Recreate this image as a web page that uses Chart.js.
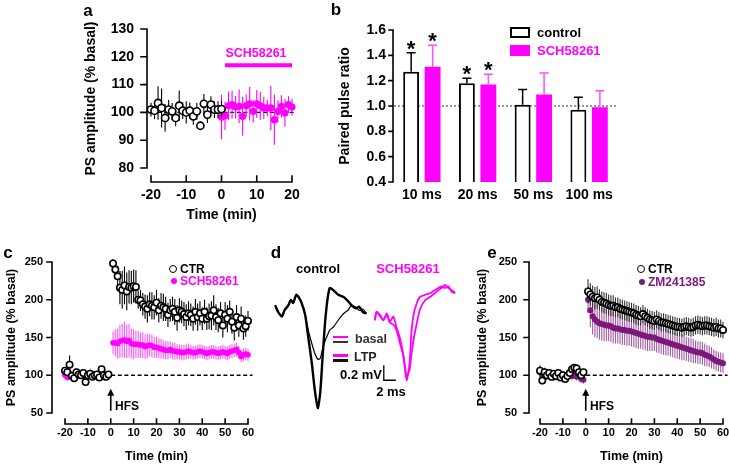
<!DOCTYPE html>
<html>
<head>
<meta charset="utf-8">
<script src="https://cdn.jsdelivr.net/npm/chart.js@4.4.1/dist/chart.umd.min.js"></script>
<style>
  html, body { margin: 0; padding: 0; background: #fff; }
  body { width: 729px; height: 467px; position: relative; overflow: hidden;
         font-family: "Liberation Sans", Arial, sans-serif; font-weight: bold; color: #000; }
  canvas { position: absolute; }
  .t { position: absolute; white-space: nowrap; line-height: 1; transform: translate(-50%, -50%); }
  .l { transform: translate(0, -50%); }
  .r { transform: translate(-100%, -50%); }
  .panel { font-size: 17px; }
  .mag { color: #ff00ff; }
  .pur { color: #7b1a7b; }
  .box { position: absolute; box-sizing: border-box; }
  .dot { position: absolute; box-sizing: border-box; border-radius: 50%; transform: translate(-50%, -50%); }
</style>
</head>
<body>
<canvas id="chartA" width="330" height="225" style="left:0;top:0"></canvas>
<canvas id="chartB" width="399" height="225" style="left:330px;top:0"></canvas>
<canvas id="chartC" width="265" height="242" style="left:0;top:225px"></canvas>
<canvas id="chartD" width="215" height="200" style="left:265px;top:225px"></canvas>
<canvas id="chartE" width="259" height="242" style="left:470px;top:225px"></canvas>

<!-- panel a -->
<div class="t panel" style="left:88px;top:10px">a</div>
<div class="t mag" style="left:256px;top:53px;font-size:12.5px">SCH58261</div>

<!-- panel b -->
<div class="t panel" style="left:336px;top:9px">b</div>
<div class="box" style="left:510px;top:27px;width:20px;height:11px;border:2px solid #000"></div>
<div class="t l" style="left:537px;top:32px;font-size:13px">control</div>
<div class="box" style="left:510px;top:45px;width:20px;height:11px;background:#ff00ff"></div>
<div class="t l mag" style="left:537px;top:50px;font-size:13px">SCH58261</div>

<!-- panel c -->
<div class="t panel" style="left:8px;top:252px">c</div>
<div class="dot" style="left:173px;top:269px;width:8px;height:8px;border:1.6px solid #000"></div>
<div class="t l" style="left:180px;top:269px;font-size:12px">CTR</div>
<div class="dot" style="left:174px;top:281px;width:6px;height:6px;background:#ff00ff"></div>
<div class="t l mag" style="left:180px;top:281px;font-size:12px">SCH58261</div>
<div class="t l" style="left:115px;top:406px;font-size:12px">HFS</div>

<!-- panel d -->
<div class="t panel" style="left:276px;top:252px">d</div>
<div class="t" style="left:318px;top:268px;font-size:13px">control</div>
<div class="t mag" style="left:408px;top:268px;font-size:13px">SCH58261</div>
<div class="box" style="left:333px;top:336px;width:15px;height:2px;background:#ff00ff"></div>
<div class="box" style="left:333px;top:341px;width:15px;height:2px;background:#333"></div>
<div class="t l" style="left:355px;top:339px;font-size:12.5px;color:#333">basal</div>
<div class="box" style="left:333px;top:354px;width:15px;height:3px;background:#ff00ff"></div>
<div class="box" style="left:333px;top:359px;width:15px;height:3px;background:#111"></div>
<div class="t l" style="left:354px;top:357px;font-size:12.5px;color:#222">LTP</div>
<div class="t r" style="left:382px;top:374px;font-size:13px">0.2 mV</div>
<div class="t" style="left:391px;top:391px;font-size:13px">2 ms</div>

<!-- panel e -->
<div class="t panel" style="left:492px;top:252px">e</div>
<div class="dot" style="left:641px;top:269px;width:8px;height:8px;border:1.6px solid #000"></div>
<div class="t l" style="left:648px;top:269px;font-size:12px">CTR</div>
<div class="dot" style="left:642px;top:282px;width:6px;height:6px;background:#7b1a7b"></div>
<div class="t l pur" style="left:648px;top:282px;font-size:12px">ZM241385</div>
<div class="t l" style="left:590px;top:406px;font-size:12px">HFS</div>

<script>
// ---------- data ----------

// a: PS amplitude (% basal) before / during SCH58261
const aCtrlMin = [-20, -19, -18, -17, -16, -15, -14, -13, -12, -11, -10, -9, -8, -7, -6, -5, -4, -3, -2, -1, 0];
const aCtrlAmp = [101, 100.6, 103.4, 101.6, 98, 101, 100.4, 98, 102.4, 100.6, 100, 100.6, 98.6, 100.4, 95.2, 103.1, 99.2, 102.8, 101, 101, 101.2];
const aCtrlSem = [2.5, 3, 6, 7, 5, 3.5, 3, 3, 5.5, 3, 4, 3, 3, 3, 1.5, 3.5, 3, 3, 3, 3, 3];
const aSchMin = [0, 1, 2, 3, 4, 5, 6, 7, 8, 9, 10, 11, 12, 13, 14, 15, 16, 17, 18, 19, 20];
const aSchAmp = [98.3, 98.8, 102.4, 102.8, 101.9, 102.2, 98.6, 102.4, 103.1, 100.4, 103.1, 102.4, 101.6, 101.6, 101.6, 97.4, 100.4, 102.2, 99.8, 102.8, 101.9];
const aSchSem = [8, 5, 5, 5, 4, 6, 7, 4, 6, 4, 5, 5, 4, 3, 8, 9, 4, 4, 5, 3, 3];
const aDrugMin = [1, 20];        // SCH58261 application bar
const aDrugLevel = 117;

// b: paired pulse ratio
const bIntervals = ['10 ms', '20 ms', '50 ms', '100 ms'];
const bCtrlPpr = [1.27, 1.18, 1.01, 0.97];
const bCtrlSem = [0.15, 0.04, 0.12, 0.10];
const bSchPpr = [1.31, 1.17, 1.09, 0.99];
const bSchSem = [0.17, 0.08, 0.17, 0.13];
const bCtrlSig = [true, true, false, false];
const bSchSig = [true, true, false, false];

// c / e: LTP time course
const baseMin = [-20, -19, -18, -17, -16, -15, -14, -13, -12, -11, -10, -9, -8, -7, -6, -5, -4, -3, -2, -1];
const postMin = [1, 2, 3, 4, 5, 6, 7, 8, 9, 10, 11, 12, 13, 14, 15, 16, 17, 18, 19, 20,
  21, 22, 23, 24, 25, 26, 27, 28, 29, 30, 31, 32, 33, 34, 35, 36, 37, 38, 39, 40,
  41, 42, 43, 44, 45, 46, 47, 48, 49, 50, 51, 52, 53, 54, 55, 56, 57, 58, 59, 60];

const cCtrlBase = [106, 104, 114, 99, 96, 104, 101, 100, 103, 91, 100, 102, 98, 100, 101, 97, 108, 100, 98, 101];
const cCtrlBaseSem = [4, 5, 12, 5, 4, 5, 4, 4, 5, 4, 4, 5, 4, 4, 4, 4, 5, 4, 4, 4];
const cSchBase = [100, 97, 103, 99, 101, 98, 100, 102, 99, 101, 100, 103, 98, 100, 102, 99, 101, 97, 100, 99];
const cSchBaseSem = [4, 4, 5, 4, 4, 4, 5, 4, 4, 4, 5, 6, 4, 4, 4, 4, 4, 4, 4, 4];
const cCtrlPost = [248, 240, 231, 216, 213, 219, 211, 217, 216, 218, 217, 200, 199, 194, 191, 188, 194, 192, 190, 196,
  186, 192, 190, 188, 180, 186, 188, 184, 176, 186, 184, 181, 177, 182, 180, 175, 184, 177, 182, 175,
  184, 175, 178, 179, 186, 177, 173, 182, 166, 180, 175, 184, 171, 163, 177, 166, 175, 162, 165, 172];
const cCtrlPostSem = [6, 10, 14, 22, 25, 25, 25, 22, 22, 22, 22, 12, 14, 15, 16, 18, 16, 18, 16, 17,
  16, 17, 18, 16, 16, 15, 16, 17, 17, 16, 15, 16, 17, 16, 15, 16, 17, 18, 16, 15,
  16, 15, 17, 19, 20, 17, 16, 15, 16, 17, 18, 15, 16, 17, 16, 15, 16, 15, 14, 13];
const cSchPost = [143, 143, 142, 145, 146, 147, 145, 146, 142, 141, 141, 141, 140, 140, 138, 139, 140, 139, 137, 137,
  136, 135, 134, 133, 133, 134, 132, 132, 131, 131, 130, 130, 131, 132, 131, 130, 130, 131, 132, 131,
  130, 129, 130, 131, 131, 130, 129, 130, 131, 130, 129, 131, 132, 133, 134, 130, 125, 127, 128, 127];
const cSchPostSem = [15, 18, 20, 22, 22, 24, 22, 22, 20, 20, 18, 18, 17, 17, 16, 16, 15, 15, 14, 14,
  13, 13, 12, 12, 12, 11, 11, 11, 10, 10, 10, 10, 10, 10, 9, 9, 9, 9, 9, 9,
  9, 9, 9, 9, 9, 9, 9, 9, 9, 9, 9, 9, 9, 9, 9, 9, 8, 8, 8, 8];

const eCtrlBase = [106, 93, 104, 100, 103, 98, 102, 99, 103, 97, 100, 95, 99, 103, 108, 110, 109, 104, 100, 104];
const eCtrlBaseSem = [6, 5, 6, 4, 5, 4, 5, 4, 5, 4, 5, 4, 4, 5, 4, 4, 4, 4, 4, 4];
const eZmBase = [104, 100, 97, 102, 99, 101, 97, 100, 102, 98, 101, 97, 99, 102, 99, 100, 98, 101, 95, 94];
const eZmBaseSem = [10, 5, 5, 5, 5, 5, 5, 5, 5, 5, 5, 5, 5, 5, 5, 5, 5, 5, 5, 5];
const eCtrlPost = [211, 207, 204, 202, 203, 200, 197, 196, 195, 193, 192, 192, 190, 190, 188, 187, 186, 185, 184, 183,
  182, 180, 179, 178, 181, 178, 176, 174, 173, 172, 174, 172, 170, 170, 169, 168, 167, 166, 165, 164,
  164, 163, 164, 165, 164, 163, 164, 166, 167, 166, 165, 166, 166, 165, 164, 163, 164, 162, 162, 160];
const eCtrlPostSem = [16, 15, 15, 15, 15, 14, 14, 14, 14, 14, 14, 14, 13, 13, 13, 13, 13, 13, 13, 13,
  13, 13, 13, 12, 12, 12, 12, 12, 12, 12, 12, 12, 12, 12, 12, 12, 12, 12, 12, 12,
  12, 12, 12, 12, 12, 12, 12, 12, 12, 12, 12, 12, 12, 12, 12, 12, 12, 12, 12, 11];
const eZmPost = [200, 186, 178, 174, 171, 169, 168, 167, 166, 166, 165, 163, 162, 162, 161, 160, 160, 159, 159, 158,
  157, 156, 155, 154, 153, 152, 151, 151, 150, 150, 148, 147, 146, 145, 144, 143, 142, 141, 140, 139,
  138, 137, 136, 135, 134, 133, 132, 131, 130, 130, 129, 127, 126, 125, 123, 121, 119, 118, 117, 116];
const eZmPostSem = [18, 22, 24, 24, 22, 22, 22, 22, 21, 21, 21, 21, 20, 20, 20, 20, 20, 20, 20, 20,
  20, 20, 20, 19, 19, 19, 19, 19, 18, 18, 18, 18, 18, 18, 18, 17, 17, 17, 17, 17,
  17, 17, 16, 16, 16, 16, 16, 15, 15, 15, 15, 15, 14, 14, 14, 13, 13, 13, 13, 13];

const hfsArrow = [0, 53, 82];   // time, arrow foot, arrow tip (% basal)

// d: representative field potentials (ms, mV)
const dCtrlMs = [1.7, 2.2, 2.8, 3.3, 3.9, 4.3, 4.7, 5.2, 5.6, 6.1, 6.7, 7.2, 7.8, 8.3, 8.8, 9.2, 9.6, 10.0, 10.4, 10.8,
  11.4, 12.2, 13.1, 13.9, 14.4, 15.2, 15.7, 16.3, 16.9];
const dCtrlLtp = [-0.07, -0.16, -0.22, -0.13, -0.07, 0, -0.04, 0.07, 0.04, -0.04, -0.2, -0.49, -0.84, -1.2, -1.44, -1.24, -0.76, -0.31, 0, 0.16,
  0.13, 0.07, 0.04, -0.02, -0.07, -0.11, -0.09, -0.16, -0.18];
const dCtrlBasal = [-0.07, -0.16, -0.22, -0.13, -0.07, 0, -0.04, 0.07, 0.04, -0.04, -0.2, -0.4, -0.58, -0.71, -0.79, -0.78, -0.65, -0.55, -0.47, -0.4,
  -0.36, -0.27, -0.18, -0.13, -0.07, -0.1, -0.14, -0.12, -0.18];
const dSchMs = [18.3, 18.6, 19.2, 19.7, 20.3, 20.8, 21.4, 21.9, 22.5, 23.1, 23.6, 24.1, 24.4, 24.8, 25.3, 25.8, 26.7, 27.5, 28.3, 28.9,
  29.4, 30.0, 30.6, 31.1, 31.7];
const dSchLtp = [-0.27, -0.16, -0.2, -0.27, -0.18, -0.29, -0.22, -0.36, -0.51, -0.76, -1.07, -0.84, -0.44, -0.18, -0.04, 0.04, 0.07, 0.09, 0.13, 0.16,
  0.18, 0.16, 0.18, 0.11, 0.09];
const dSchBasal = [-0.27, -0.16, -0.22, -0.27, -0.2, -0.3, -0.33, -0.4, -0.58, -0.76, -1.02, -0.93, -0.73, -0.51, -0.31, -0.13, 0, 0.04, 0.09, 0.13,
  0.16, 0.2, 0.16, 0.13, 0.1];
const dBarMs = [19.8, 19.8, 21.8];   // scale bar: 0.2 mV, 2 ms
const dBarMv = [-0.87, -1.07, -1.07];

// ---------- chart defaults ----------
Chart.defaults.font.family = '"Liberation Sans", Arial, Helvetica, sans-serif';
Chart.defaults.font.weight = 'bold';
Chart.defaults.color = '#000';
Chart.defaults.animation = false;
Chart.defaults.plugins.legend.display = false;
Chart.defaults.plugins.tooltip.enabled = false;

const MAGENTA = '#ff00ff';
const PURPLE = '#7b1a7b';

const pts = (xs, ys) => xs.map((x, i) => ({ x, y: ys[i] }));

// ---------- plugins ----------

// vertical SEM bars, drawn behind the markers (or above bars for mode 'up')
function drawErrors(chart, meta, ds) {
  const ctx = chart.ctx;
  const yScale = chart.scales[meta.yAxisID];
  ctx.save();
  ctx.strokeStyle = ds.errorColor;
  ctx.lineWidth = ds.errorWidth || 1;
  meta.data.forEach((el, i) => {
    const raw = ds.data[i];
    const v = typeof raw === 'object' ? raw.y : raw;
    const e = ds.errors[i];
    const top = yScale.getPixelForValue(v + e);
    const bot = yScale.getPixelForValue(ds.errorMode === 'up' ? v : v - e);
    ctx.beginPath();
    ctx.moveTo(el.x, top);
    ctx.lineTo(el.x, bot);
    if (ds.capWidth) {
      ctx.moveTo(el.x - ds.capWidth / 2, top);
      ctx.lineTo(el.x + ds.capWidth / 2, top);
    }
    ctx.stroke();
  });
  ctx.restore();
}

const errorBars = {
  id: 'errorBars',
  beforeDatasetDraw(chart, args) {
    const ds = chart.data.datasets[args.index];
    if (ds.errors && ds.errorMode !== 'up') drawErrors(chart, args.meta, ds);
  },
  afterDatasetDraw(chart, args) {
    const ds = chart.data.datasets[args.index];
    if (ds.errors && ds.errorMode === 'up') drawErrors(chart, args.meta, ds);
  },
};

// offset axis lines: y axis left of the plot, x axis below it with ticks pointing up
const axisFrame = {
  id: 'axisFrame',
  afterDraw(chart, args, opts) {
    const { ctx, chartArea, scales } = chart;
    const x = scales.x, y = scales.y;
    ctx.save();
    ctx.strokeStyle = '#000';
    ctx.lineWidth = opts.width || 1.6;
    ctx.lineCap = 'square';
    ctx.beginPath();
    if (opts.yGap !== undefined) {
      const ax = chartArea.left - opts.yGap;
      ctx.moveTo(ax, y.getPixelForValue(y.max));
      ctx.lineTo(ax, y.getPixelForValue(y.min));
      y.ticks.forEach((tk) => {
        const py = y.getPixelForValue(tk.value);
        ctx.moveTo(ax - opts.tick, py);
        ctx.lineTo(ax, py);
      });
    }
    if (opts.xGap !== undefined) {
      const ay = chartArea.bottom + opts.xGap;
      ctx.moveTo(x.getPixelForValue(x.min), ay);
      ctx.lineTo(x.getPixelForValue(x.max), ay);
      x.ticks.forEach((tk) => {
        const px = x.getPixelForValue(tk.value);
        ctx.moveTo(px, ay - opts.tick);
        ctx.lineTo(px, ay);
      });
    }
    ctx.stroke();
    ctx.restore();
  },
};

// HFS arrow
const arrowMark = {
  id: 'arrowMark',
  afterDatasetsDraw(chart, args, opts) {
    if (!opts.at) return;
    const { ctx, scales } = chart;
    const px = scales.x.getPixelForValue(opts.at[0]);
    const y0 = scales.y.getPixelForValue(opts.at[1]);
    const y1 = scales.y.getPixelForValue(opts.at[2]);
    ctx.save();
    ctx.strokeStyle = '#000';
    ctx.fillStyle = '#000';
    ctx.lineWidth = 1.6;
    ctx.beginPath();
    ctx.moveTo(px, y0);
    ctx.lineTo(px, y1 + 5);
    ctx.stroke();
    ctx.beginPath();
    ctx.moveTo(px, y1);
    ctx.lineTo(px - 3.5, y1 + 7);
    ctx.lineTo(px + 3.5, y1 + 7);
    ctx.closePath();
    ctx.fill();
    ctx.restore();
  },
};

// dotted reference line and significance stars for the bar chart
const barMarks = {
  id: 'barMarks',
  beforeDatasetsDraw(chart, args, opts) {
    if (opts.refLine === undefined) return;
    const { ctx, chartArea, scales } = chart;
    const py = scales.y.getPixelForValue(opts.refLine);
    ctx.save();
    ctx.strokeStyle = '#333';
    ctx.lineWidth = 1;
    ctx.setLineDash([2, 2]);
    ctx.beginPath();
    ctx.moveTo(chartArea.left, py);
    ctx.lineTo(chartArea.right, py);
    ctx.stroke();
    ctx.restore();
  },
  afterDatasetsDraw(chart) {
    const { ctx, scales } = chart;
    ctx.save();
    ctx.fillStyle = '#000';
    ctx.font = 'bold 22px "Liberation Sans", Arial, sans-serif';
    ctx.textAlign = 'center';
    ctx.textBaseline = 'alphabetic';
    chart.data.datasets.forEach((ds, di) => {
      if (!ds.stars) return;
      const meta = chart.getDatasetMeta(di);
      ds.stars.forEach((on, i) => {
        if (!on) return;
        const top = scales.y.getPixelForValue(ds.data[i] + ds.errors[i]);
        ctx.fillText('*', meta.data[i].x, top + 3);
      });
    });
    ctx.restore();
  },
};

// ---------- helpers ----------
function markers(xs, ys, errs, style) {
  return Object.assign({
    type: 'scatter',
    data: pts(xs, ys),
    errors: errs,
    showLine: false,
    clip: false,
  }, style);
}

const openCircle = (r) => ({
  pointRadius: r, pointBackgroundColor: '#fff', pointBorderColor: '#000', pointBorderWidth: 1.6,
  errorColor: '#000', errorWidth: 1.1,
});
const filledDot = (r, color, errColor) => ({
  pointRadius: r, pointBackgroundColor: color, pointBorderColor: color, pointBorderWidth: 0,
  errorColor: errColor, errorWidth: 1.1,
});

function dashedBaseline(xFrom, xTo) {
  return {
    type: 'line',
    data: pts([xFrom, xTo], [100, 100]),
    borderColor: '#000',
    borderWidth: 1.3,
    borderDash: [4, 2.6],
    pointRadius: 0,
    clip: false,
  };
}

function timeChart(id, datasets, g) {
  return new Chart(document.getElementById(id), {
    type: 'scatter',
    data: { datasets },
    options: {
      responsive: false,
      layout: { padding: g.pad },
      scales: {
        x: {
          type: 'linear', min: g.xMin, max: g.xMax,
          grid: { display: false, drawTicks: false },
          border: { display: false },
          ticks: { stepSize: 10, padding: g.xTickPad, font: { size: g.tickSize }, autoSkip: false, maxRotation: 0 },
          title: { display: true, text: 'Time (min)', font: { size: g.titleSize }, padding: { top: 0, bottom: g.xTitlePad } },
          afterFit: (s) => { s.height = g.xH; s.paddingLeft = 0; s.paddingRight = 0; },
        },
        y: {
          min: g.yMin, max: g.yMax,
          grid: { display: false, drawTicks: false },
          border: { display: false },
          ticks: { stepSize: g.yStep, padding: g.yTickPad, font: { size: g.tickSize } },
          title: { display: true, text: 'PS amplitude (% basal)', font: { size: g.titleSize }, padding: { top: g.yTitlePad, bottom: 0 } },
          afterFit: (s) => { s.width = g.yW; s.paddingTop = 0; s.paddingBottom = 0; },
        },
      },
      plugins: {
        axisFrame: { yGap: g.yGap, xGap: g.xGap, tick: g.tickLen },
        arrowMark: { at: g.arrow },
      },
    },
    plugins: [axisFrame, errorBars, arrowMark],
  });
}

// ---------- a ----------
timeChart('chartA', [
  markers(aCtrlMin, aCtrlAmp, aCtrlSem, openCircle(3.6)),
  markers(aSchMin, aSchAmp, aSchSem, filledDot(3.6, MAGENTA, MAGENTA)),
  {
    type: 'line', data: pts(aDrugMin, [aDrugLevel, aDrugLevel]),
    borderColor: MAGENTA, borderWidth: 4, pointRadius: 0, clip: false,
  },
  dashedBaseline(-20, 21),
], {
  pad: { left: 81, right: 38, top: 29, bottom: 1 },
  xMin: -20, xMax: 20, yMin: 80, yMax: 130, yStep: 10,
  tickSize: 14, titleSize: 14,
  xH: 56, xTickPad: 18.6, xTitlePad: 0,
  yW: 70, yTickPad: 17, yTitlePad: 2,
  yGap: 4, xGap: 14, tickLen: 6,
});

// ---------- b ----------
new Chart(document.getElementById('chartB'), {
  type: 'bar',
  data: {
    labels: bIntervals,
    datasets: [
      {
        label: 'control', data: bCtrlPpr,
        backgroundColor: '#fff', borderColor: '#000', borderWidth: 2, borderSkipped: false,
        errors: bCtrlSem, errorMode: 'up', errorColor: '#000', errorWidth: 1.5, capWidth: 9,
        stars: bCtrlSig,
      },
      {
        label: 'SCH58261', data: bSchPpr,
        backgroundColor: MAGENTA, borderWidth: 0,
        errors: bSchSem, errorMode: 'up', errorColor: '#ff4dff', errorWidth: 1.5, capWidth: 9,
        stars: bSchSig,
      },
    ],
  },
  options: {
    responsive: false,
    layout: { padding: { left: 6, right: 112, top: 30, bottom: 13 } },
    datasets: { bar: { categoryPercentage: 0.77, barPercentage: 0.74 } },
    scales: {
      x: {
        grid: { display: false, drawTicks: false },
        border: { display: false },
        ticks: { padding: 4.6, font: { size: 14 } },
        afterFit: (s) => { s.height = 30; s.paddingLeft = 0; s.paddingRight = 0; },
      },
      y: {
        min: 0.4, max: 1.6,
        grid: { display: false, drawTicks: false },
        border: { display: false },
        ticks: { stepSize: 0.2, padding: 8, font: { size: 14 }, callback: (v) => v.toFixed(1) },
        title: { display: true, text: 'Paired pulse ratio', font: { size: 14 }, padding: { top: 0.6, bottom: 0 } },
        afterFit: (s) => { s.width = 58; s.paddingTop = 0; s.paddingBottom = 0; },
      },
    },
    plugins: {
      axisFrame: { yGap: 1, tick: 4 },
      barMarks: { refLine: 1.0 },
    },
  },
  plugins: [axisFrame, errorBars, barMarks],
});

// ---------- c ----------
timeChart('chartC', [
  markers(baseMin, cCtrlBase, cCtrlBaseSem, openCircle(3.2)),
  markers(postMin, cCtrlPost, cCtrlPostSem, openCircle(3.2)),
  markers(baseMin, cSchBase, cSchBaseSem, filledDot(2.8, MAGENTA, '#ff55ff')),
  markers(postMin, cSchPost, cSchPostSem, filledDot(2.8, MAGENTA, '#ff55ff')),
  dashedBaseline(-20, 62),
], {
  pad: { left: 4, right: 17, top: 37, bottom: 2 },
  xMin: -20, xMax: 60, yMin: 50, yMax: 250, yStep: 50,
  tickSize: 11, titleSize: 12.5,
  xH: 52, xTickPad: 13.4, xTitlePad: 0.5,
  yW: 61, yTickPad: 22, yTitlePad: 0.5,
  yGap: 13, xGap: 11, tickLen: 5,
  arrow: hfsArrow,
});

// ---------- d ----------
function trace(xs, ys, color, width) {
  return { data: pts(xs, ys), borderColor: color, borderWidth: width, pointRadius: 0, tension: 0.2, clip: false };
}
new Chart(document.getElementById('chartD'), {
  type: 'line',
  data: {
    datasets: [
      trace(dCtrlMs, dCtrlLtp, '#000', 2.4),
      trace(dCtrlMs, dCtrlBasal, '#000', 1.2),
      trace(dSchMs, dSchLtp, MAGENTA, 1.8),
      trace(dSchMs, dSchBasal, MAGENTA, 1.8),
      Object.assign(trace(dBarMs, dBarMv, '#000', 1.3), { tension: 0 }),
    ],
  },
  options: {
    responsive: false,
    layout: { padding: 0 },
    scales: {
      x: { type: 'linear', display: false, min: 0, max: 215 / 6 },
      y: { display: false, min: -125 / 75, max: 1.0 },
    },
  },
});

// ---------- e ----------
timeChart('chartE', [
  markers(baseMin, eCtrlBase, eCtrlBaseSem, openCircle(3.2)),
  markers(postMin, eCtrlPost, eCtrlPostSem, Object.assign(openCircle(3.2), { errorColor: '#333' })),
  markers(baseMin, eZmBase, eZmBaseSem, filledDot(3, PURPLE, '#a35aa3')),
  markers(postMin, eZmPost, eZmPostSem, filledDot(3, PURPLE, '#a35aa3')),
  dashedBaseline(-20, 62),
], {
  pad: { left: 5, right: 6, top: 37, bottom: 2 },
  xMin: -20, xMax: 60, yMin: 50, yMax: 250, yStep: 50,
  tickSize: 11, titleSize: 12.5,
  xH: 52, xTickPad: 13.4, xTitlePad: 0.5,
  yW: 65, yTickPad: 23, yTitlePad: 0.5,
  yGap: 11, xGap: 11, tickLen: 5,
  arrow: hfsArrow,
});
</script>
</body>
</html>
